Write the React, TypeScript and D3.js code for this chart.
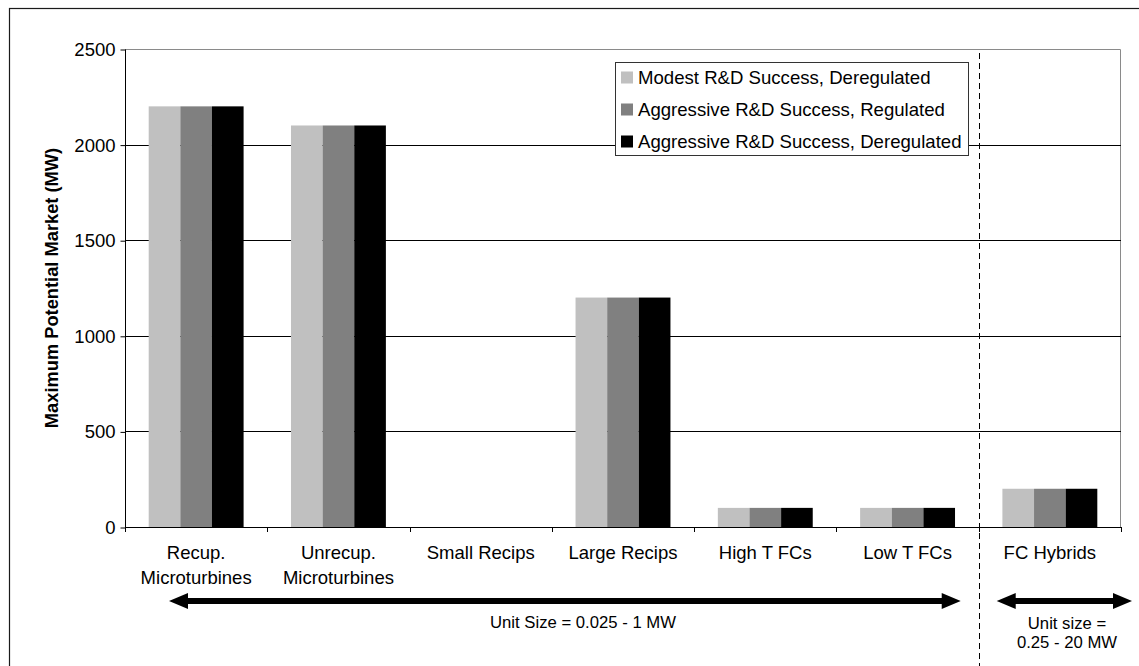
import { useEffect, useRef } from "react";
import * as d3 from "d3";

// ---------------------------------------------------------------------------
// Data
// ---------------------------------------------------------------------------

const CATEGORIES = [
  "Recup.\nMicroturbines",
  "Unrecup.\nMicroturbines",
  "Small Recips",
  "Large Recips",
  "High T FCs",
  "Low T FCs",
  "FC Hybrids",
];

const SERIES = [
  "Modest R&D Success, Deregulated",
  "Aggressive R&D Success, Regulated",
  "Aggressive R&D Success, Deregulated",
];

const MODEST_DEREGULATED = [2200, 2100, 0, 1200, 100, 100, 200];
const AGGRESSIVE_REGULATED = [2200, 2100, 0, 1200, 100, 100, 200];
const AGGRESSIVE_DEREGULATED = [2200, 2100, 0, 1200, 100, 100, 200];

const Y_TICKS = [0, 500, 1000, 1500, 2000, 2500];

const SERIES_COLORS = ["#c0c0c0", "#808080", "#000000"];

const FONT = "'Liberation Sans', Arial, Helvetica, sans-serif";

const W = 1139;
const H = 666;

// ---------------------------------------------------------------------------
// Component
// ---------------------------------------------------------------------------

export default function App() {
  const svgRef = useRef<SVGSVGElement>(null);

  useEffect(() => {
    const svg = d3.select(svgRef.current);
    svg.selectAll("*").remove();

    const plot = { left: 125, right: 1121, top: 49, bottom: 527 };
    const values = [MODEST_DEREGULATED, AGGRESSIVE_REGULATED, AGGRESSIVE_DEREGULATED];

    const rows = CATEGORIES.map((c, i) => ({
      category: c,
      vals: SERIES.map((s, j) => ({ series: s, value: values[j][i] })),
    }));

    // ---- Scales ----
    const x0 = d3
      .scaleBand<string>()
      .domain(CATEGORIES)
      .range([plot.left, plot.right])
      .padding(0);
    const bw = x0.bandwidth();
    const groupW = bw * 0.667;
    const x1 = d3
      .scaleBand<string>()
      .domain(SERIES)
      .range([(bw - groupW) / 2, (bw + groupW) / 2])
      .padding(0);
    const y = d3.scaleLinear().domain([0, 2500]).range([plot.bottom, plot.top]);
    const color = d3.scaleOrdinal<string, string>().domain(SERIES).range(SERIES_COLORS);

    svg.attr("font-family", FONT);

    // ---- Outer frame (cut off at right and bottom) ----
    svg
      .append("rect")
      .attr("x", 9.5)
      .attr("y", 8.5)
      .attr("width", W + 20)
      .attr("height", H + 20)
      .attr("fill", "white")
      .attr("stroke", "#1a1a1a")
      .attr("stroke-width", 1.2);

    // ---- Plot frame (gray top/right) ----
    svg
      .append("path")
      .attr("d", `M${plot.left},${plot.top + 0.5}H${plot.right - 0.5}V${plot.bottom}`)
      .attr("fill", "none")
      .attr("stroke", "#8a8a8a");

    // ---- Gridlines ----
    svg
      .append("g")
      .selectAll("line")
      .data(Y_TICKS.filter((t) => t > 0 && t < 2500))
      .join("line")
      .attr("x1", plot.left)
      .attr("x2", plot.right)
      .attr("y1", (d) => Math.round(y(d)) + 0.5)
      .attr("y2", (d) => Math.round(y(d)) + 0.5)
      .attr("stroke", "#000");

    // ---- Bars ----
    svg
      .append("g")
      .selectAll("g")
      .data(rows)
      .join("g")
      .attr("transform", (d) => `translate(${x0(d.category)},0)`)
      .selectAll("rect")
      .data((d) => d.vals.filter((v) => v.value > 0))
      .join("rect")
      .attr("x", (d) => x1(d.series)!)
      .attr("width", x1.bandwidth())
      .attr("y", (d) => y(d.value))
      .attr("height", (d) => y(0) - y(d.value))
      .attr("fill", (d) => color(d.series));

    // ---- Y axis ----
    const yAxis = d3
      .axisLeft(y)
      .tickValues(Y_TICKS)
      .tickFormat(d3.format("d"))
      .tickSize(5)
      .tickPadding(5);
    svg
      .append("g")
      .attr("transform", `translate(${plot.left + 0.5},0.5)`)
      .call(yAxis)
      .call((sel) => sel.select(".domain").attr("stroke", "#000").attr("d", `M0,${plot.top}V${plot.bottom}`))
      .call((sel) => sel.selectAll(".tick line").attr("stroke", "#000"))
      .call((sel) =>
        sel
          .selectAll(".tick text")
          .attr("fill", "#000")
          .attr("font-size", 18.5)
          .attr("font-family", FONT)
      );

    // ---- X baseline + boundary ticks ----
    const boundaries = [...CATEGORIES.map((c) => x0(c)!), plot.right];
    svg
      .append("line")
      .attr("x1", plot.left)
      .attr("x2", plot.right)
      .attr("y1", plot.bottom + 0.5)
      .attr("y2", plot.bottom + 0.5)
      .attr("stroke", "#000");
    svg
      .append("g")
      .selectAll("line")
      .data(boundaries)
      .join("line")
      .attr("x1", (d) => Math.round(d) + 0.5)
      .attr("x2", (d) => Math.round(d) + 0.5)
      .attr("y1", plot.bottom)
      .attr("y2", plot.bottom + 5)
      .attr("stroke", "#000");

    // ---- Category labels ----
    svg
      .append("g")
      .selectAll("text")
      .data(CATEGORIES)
      .join("text")
      .attr("x", (d) => x0(d)! + bw / 2)
      .attr("y", 559)
      .attr("text-anchor", "middle")
      .attr("font-size", 18.5)
      .attr("fill", "#000")
      .each(function (d) {
        const t = d3.select(this);
        d.split("\n").forEach((line, i) => {
          t.append("tspan")
            .attr("x", x0(d)! + bw / 2)
            .attr("dy", i === 0 ? 0 : 25)
            .text(line);
        });
      });

    // ---- Y axis title ----
    svg
      .append("text")
      .attr("transform", `translate(58,${(plot.top + plot.bottom) / 2}) rotate(-90)`)
      .attr("text-anchor", "middle")
      .attr("font-size", 18.3)
      .attr("font-weight", "bold")
      .attr("fill", "#000")
      .text("Maximum Potential Market (MW)");

    // ---- Dashed separator ----
    const sepX = x0("FC Hybrids")!;
    svg
      .append("line")
      .attr("x1", Math.round(sepX) + 0.5)
      .attr("x2", Math.round(sepX) + 0.5)
      .attr("y1", plot.top + 4)
      .attr("y2", H)
      .attr("stroke", "#000")
      .attr("stroke-dasharray", "6,4");

    // ---- Legend ----
    const lg = svg.append("g").attr("transform", "translate(615.5,62.5)");
    lg.append("rect")
      .attr("width", 353)
      .attr("height", 93)
      .attr("fill", "white")
      .attr("stroke", "#333");
    const items = lg
      .selectAll("g.item")
      .data(SERIES)
      .join("g")
      .attr("class", "item")
      .attr("transform", (_d, i) => `translate(0,${15 + i * 32})`);
    items
      .append("rect")
      .attr("x", 5.5)
      .attr("y", -6)
      .attr("width", 12)
      .attr("height", 12)
      .attr("fill", (d) => color(d));
    items
      .append("text")
      .attr("x", 22.5)
      .attr("y", 6.5)
      .attr("font-size", 18.6)
      .attr("fill", "#000")
      .text((d) => d);

    // ---- Unit size arrows ----
    const arrow = (xa: number, xb: number, cy: number) => {
      const head = 19;
      const hh = 8;
      const sh = 3;
      const p = d3.path();
      p.moveTo(xa, cy);
      p.lineTo(xa + head, cy - hh);
      p.lineTo(xa + head, cy - sh);
      p.lineTo(xb - head, cy - sh);
      p.lineTo(xb - head, cy - hh);
      p.lineTo(xb, cy);
      p.lineTo(xb - head, cy + hh);
      p.lineTo(xb - head, cy + sh);
      p.lineTo(xa + head, cy + sh);
      p.lineTo(xa + head, cy + hh);
      p.closePath();
      svg.append("path").attr("d", p.toString()).attr("fill", "#000");
    };
    arrow(plot.left + 44, sepX - 18, 601);
    arrow(sepX + 18, plot.right + 11, 601);

    svg
      .append("text")
      .attr("x", 583)
      .attr("y", 628)
      .attr("text-anchor", "middle")
      .attr("font-size", 16.7)
      .attr("fill", "#000")
      .text("Unit Size = 0.025 - 1 MW");

    const rt = svg
      .append("text")
      .attr("x", 1067)
      .attr("y", 629)
      .attr("text-anchor", "middle")
      .attr("font-size", 16.7)
      .attr("fill", "#000");
    rt.append("tspan").attr("x", 1067).text("Unit size =");
    rt.append("tspan").attr("x", 1067).attr("dy", 19).text("0.25 - 20 MW");
  }, []);

  return (
    <svg
      ref={svgRef}
      width={W}
      height={H}
      style={{ position: "absolute", left: 0, top: 0, display: "block", background: "white" }}
    />
  );
}
